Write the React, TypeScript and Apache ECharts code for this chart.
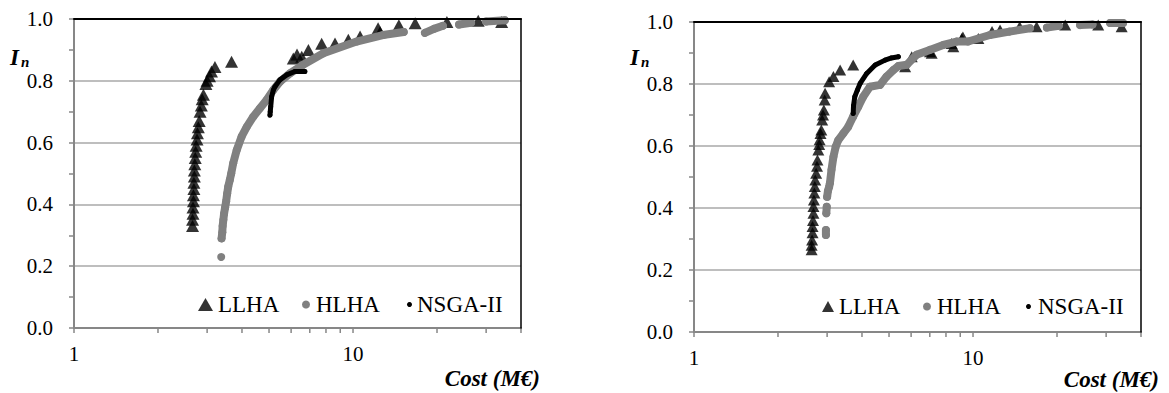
import React, { useEffect, useRef } from 'react';
import * as echarts from 'echarts';

type Pt = [number, number];

// ---------- data ----------
const SERIES_NAMES = ['LLHA', 'HLHA', 'NSGA-II'];

const LEFT_LLHA: Pt[] = [
  [2.66, 0.33], [2.66, 0.35], [2.67, 0.37], [2.67, 0.39], [2.68, 0.41], [2.68, 0.43],
  [2.69, 0.45], [2.69, 0.47], [2.70, 0.49], [2.70, 0.51], [2.71, 0.53], [2.72, 0.55],
  [2.73, 0.57], [2.74, 0.59], [2.76, 0.61], [2.77, 0.63], [2.79, 0.65], [2.81, 0.67],
  [2.83, 0.70], [2.86, 0.72], [2.88, 0.74], [2.91, 0.755], [2.97, 0.79], [3.00, 0.80],
  [3.06, 0.815], [3.11, 0.83], [3.20, 0.845], [3.67, 0.862],
  [6.11, 0.872], [6.30, 0.885], [6.55, 0.878], [6.92, 0.90], [7.72, 0.92], [8.62, 0.921],
  [9.62, 0.933], [10.6, 0.943], [12.3, 0.97], [12.5, 0.957], [14.6, 0.98], [16.7, 0.986],
  [21.7, 0.99], [28.1, 0.994], [34.1, 0.99],
];

const LEFT_HLHA_SEGMENTS: Pt[][] = [
  [[3.37, 0.23]],
  [
    [3.38, 0.29], [3.40, 0.31], [3.41, 0.33], [3.43, 0.35], [3.45, 0.37], [3.48, 0.39],
    [3.51, 0.41], [3.54, 0.435], [3.57, 0.457], [3.62, 0.48], [3.66, 0.50], [3.72, 0.533],
    [3.83, 0.576], [3.99, 0.62], [4.16, 0.651], [4.39, 0.684], [4.64, 0.711], [4.90, 0.738],
    [5.18, 0.77], [5.47, 0.797], [5.94, 0.824], [6.60, 0.851], [7.83, 0.889], [10.3, 0.927],
    [12.8, 0.948], [15.2, 0.958],
  ],
  [[18.1, 0.955], [19.5, 0.968], [21.0, 0.978]],
  [[24.0, 0.982], [26.5, 0.988]],
  [[30.0, 0.992], [35.0, 0.996]],
];

const LEFT_NSGA: Pt[] = [
  [5.04, 0.689], [5.05, 0.70], [5.07, 0.716], [5.11, 0.749], [5.18, 0.77], [5.25, 0.781],
  [5.47, 0.803], [5.78, 0.819], [6.19, 0.83], [6.72, 0.83],
];

const RIGHT_LLHA: Pt[] = [
  [2.64, 0.265], [2.64, 0.28], [2.65, 0.297], [2.66, 0.32], [2.66, 0.34], [2.67, 0.36],
  [2.68, 0.383], [2.68, 0.405], [2.69, 0.426], [2.70, 0.448], [2.71, 0.469], [2.72, 0.49],
  [2.74, 0.512], [2.76, 0.535], [2.77, 0.555], [2.79, 0.587], [2.81, 0.605], [2.82, 0.62],
  [2.84, 0.64], [2.86, 0.652], [2.88, 0.684], [2.90, 0.70], [2.92, 0.716], [2.94, 0.748],
  [2.95, 0.77], [3.05, 0.807], [3.16, 0.824], [3.34, 0.845], [3.72, 0.861],
  [5.71, 0.856], [6.03, 0.888], [7.01, 0.904], [7.11, 0.899], [8.38, 0.931], [8.50, 0.92],
  [9.11, 0.947], [9.20, 0.952], [10.45, 0.947], [11.7, 0.969], [12.5, 0.974], [14.7, 0.985],
  [16.9, 0.985], [21.4, 0.99], [28.1, 0.99], [34.1, 0.985],
];

const RIGHT_HLHA_SEGMENTS: Pt[][] = [
  [[2.97, 0.313], [2.97, 0.329]],
  [[2.98, 0.383], [2.99, 0.404]],
  [
    [3.00, 0.436], [3.02, 0.455], [3.05, 0.468], [3.07, 0.48], [3.11, 0.523], [3.16, 0.565],
    [3.22, 0.598], [3.29, 0.619], [3.43, 0.641], [3.57, 0.662], [3.72, 0.695], [3.88, 0.727],
    [4.04, 0.759], [4.27, 0.791], [4.64, 0.797], [4.90, 0.824], [5.18, 0.845], [5.40, 0.858],
    [5.79, 0.862], [6.27, 0.894], [7.00, 0.91], [7.82, 0.926], [8.73, 0.937], [9.60, 0.937],
    [11.5, 0.958], [13.5, 0.969], [16.0, 0.98],
  ],
  [[18.4, 0.982], [20.3, 0.988]],
  [[24.2, 0.99], [26.8, 0.992]],
  [[31.0, 0.997], [34.5, 0.997]],
];

const RIGHT_NSGA: Pt[] = [
  [3.72, 0.705], [3.73, 0.73], [3.77, 0.759], [3.85, 0.78], [3.94, 0.802], [4.16, 0.834],
  [4.46, 0.861], [4.84, 0.877], [5.10, 0.884], [5.40, 0.888],
];

const X_MIN = 1;
const X_MAX = 40;
const X_LABELS = [1, 10];
const X_TICKS = [1, 2, 3, 4, 5, 6, 7, 8, 9, 10, 20, 30, 40];
const Y_MIN = 0;
const Y_MAX = 1;
const Y_STEP = 0.2;
const Y_TITLE = 'I';
const Y_TITLE_SUB = 'n';
const X_TITLE = 'Cost (M€)';

// ---------- styling ----------
const FONT = '"Liberation Serif", "Times New Roman", serif';
const GRID_GRAY = '#a8a8a8';
const AXIS_GRAY = '#878787';
const DOT_GRAY = '#808080';

const PANELS = [
  {
    grid: { left: 74, top: 19, width: 447, height: 309 },
    llha: LEFT_LLHA, hlha: LEFT_HLHA_SEGMENTS, nsga: LEFT_NSGA,
    tri: [13, 12],
    legend: [
      { left: 198, top: 293, w: 15, h: 13 },
      { left: 302, top: 293, w: 10, h: 8 },
      { left: 407, top: 293, w: 5, h: 5 },
    ],
    yTitle: { x: 10, y: 57 },
    xTitle: { x: 540, y: 378 },
  },
  {
    grid: { left: 694, top: 22, width: 447, height: 310 },
    llha: RIGHT_LLHA, hlha: RIGHT_HLHA_SEGMENTS, nsga: RIGHT_NSGA,
    tri: [12, 11],
    legend: [
      { left: 822, top: 295, w: 12, h: 11 },
      { left: 923, top: 295, w: 10, h: 8 },
      { left: 1026, top: 295, w: 9, h: 5 },
    ],
    yTitle: { x: 630, y: 57 },
    xTitle: { x: 1159, y: 379 },
  },
];

export default function App() {
  const ref = useRef<HTMLDivElement>(null);

  useEffect(() => {
    if (!ref.current) return;
    const chart = echarts.init(ref.current, undefined, { renderer: 'svg' });

    const grid: any[] = [];
    const xAxis: any[] = [];
    const yAxis: any[] = [];
    const series: any[] = [];
    const legend: any[] = [];

    PANELS.forEach((p, g) => {
      grid.push({ ...p.grid, containLabel: false });
      xAxis.push(
        {
          gridIndex: g, type: 'log', logBase: 10, min: X_MIN, max: X_MAX, position: 'bottom',
          axisLine: { show: true, onZero: false, lineStyle: { color: AXIS_GRAY, width: 2 } },
          axisTick: { show: false },
          minorTick: { show: false },
          splitLine: { show: false },
          axisLabel: {
            fontFamily: FONT, fontSize: 21, color: '#000', margin: 15,
            formatter: (v: number) => (X_LABELS.some((l) => Math.abs(l - v) < 1e-6) ? String(Math.round(v)) : ''),
          },
        },
        {
          gridIndex: g, type: 'log', logBase: 10, min: X_MIN, max: X_MAX, position: 'top', z: 5,
          axisLine: { show: true, onZero: false, lineStyle: { color: '#000', width: 2 } },
          axisTick: { show: false }, axisLabel: { show: false }, splitLine: { show: false },
        },
      );
      yAxis.push(
        {
          gridIndex: g, type: 'value', min: Y_MIN, max: Y_MAX, interval: Y_STEP, position: 'left',
          axisLine: { show: true, onZero: false, lineStyle: { color: AXIS_GRAY, width: 2 } },
          axisTick: { show: true, length: 5, lineStyle: { color: AXIS_GRAY, width: 1.5 } },
          minorTick: { show: true, splitNumber: 2, length: 5, lineStyle: { color: AXIS_GRAY, width: 1.5 } },
          splitLine: { show: true, showMinLine: false, showMaxLine: false, lineStyle: { color: GRID_GRAY, width: 1.5 } },
          axisLabel: { fontFamily: FONT, fontSize: 21, color: '#000', margin: 21, formatter: (v: number) => v.toFixed(1) },
        },
        {
          gridIndex: g, type: 'value', min: Y_MIN, max: Y_MAX, position: 'right', z: 5,
          axisLine: { show: true, onZero: false, lineStyle: { color: '#000', width: 1.5 } },
          axisTick: { show: false }, axisLabel: { show: false }, splitLine: { show: false },
        },
      );

      const ax = { xAxisIndex: 2 * g, yAxisIndex: 2 * g };
      series.push({
        type: 'scatter', name: SERIES_NAMES[0], ...ax, data: p.llha, z: 2,
        symbol: 'triangle', symbolSize: p.tri, itemStyle: { color: '#000' },
      });
      p.hlha.forEach((seg) => {
        series.push({
          type: 'line', name: SERIES_NAMES[1], ...ax, data: seg, z: 3,
          symbol: 'circle', symbolSize: 8, showSymbol: true, showAllSymbol: true,
          lineStyle: { width: 8, color: DOT_GRAY, cap: 'round', join: 'round' },
          itemStyle: { color: DOT_GRAY, borderWidth: 0 },
        });
      });
      series.push({
        type: 'line', name: SERIES_NAMES[2], ...ax, data: p.nsga, z: 4,
        symbol: 'circle', symbolSize: 5, showSymbol: true, showAllSymbol: true,
        lineStyle: { width: 5, color: '#000', cap: 'round', join: 'round' },
        itemStyle: { color: '#000', borderWidth: 0 },
      });

      const icons = ['triangle', 'circle', 'circle'];
      p.legend.forEach((l, i) => {
        legend.push({
          data: [{ name: SERIES_NAMES[i], icon: icons[i] }],
          left: l.left, top: l.top, itemWidth: l.w, itemHeight: l.h, padding: 0,
          selectedMode: false,
          textStyle: { fontFamily: FONT, fontSize: 23, color: '#000' },
        });
      });
    });

    chart.setOption({
      animation: false,
      backgroundColor: '#fff',
      grid, xAxis, yAxis, series, legend,
    });

    const graphic: any[] = [];
    PANELS.forEach((p, g) => {
      const yb = chart.convertToPixel({ yAxisIndex: 2 * g } as any, Y_MIN) as number;
      X_TICKS.forEach((v) => {
        const x = chart.convertToPixel({ xAxisIndex: 2 * g } as any, v) as number;
        graphic.push({
          type: 'line', silent: true,
          shape: { x1: x, y1: yb, x2: x, y2: yb + 5 },
          style: { stroke: AXIS_GRAY, lineWidth: 1.5 },
        });
      });
      graphic.push({
        type: 'text', x: p.yTitle.x, y: p.yTitle.y,
        style: {
          text: Y_TITLE, fontFamily: FONT, fontSize: 23, fontWeight: 'bold', fontStyle: 'italic',
          fill: '#000', verticalAlign: 'middle', align: 'left',
        },
      });
      graphic.push({
        type: 'text', x: p.yTitle.x + 11, y: p.yTitle.y + 5,
        style: {
          text: Y_TITLE_SUB, fontFamily: FONT, fontSize: 15, fontWeight: 'bold', fontStyle: 'italic',
          fill: '#000', verticalAlign: 'middle', align: 'left',
        },
      });
      graphic.push({
        type: 'text', x: p.xTitle.x, y: p.xTitle.y,
        style: {
          text: X_TITLE, fontFamily: FONT, fontSize: 23, fontWeight: 'bold', fontStyle: 'italic',
          fill: '#000', verticalAlign: 'middle', align: 'right',
        },
      });
    });
    chart.setOption({ graphic });

    return () => chart.dispose();
  }, []);

  return (
    <div
      ref={ref}
      style={{ position: 'absolute', left: 0, top: 0, width: 1169, height: 393, background: '#fff' }}
    />
  );
}
